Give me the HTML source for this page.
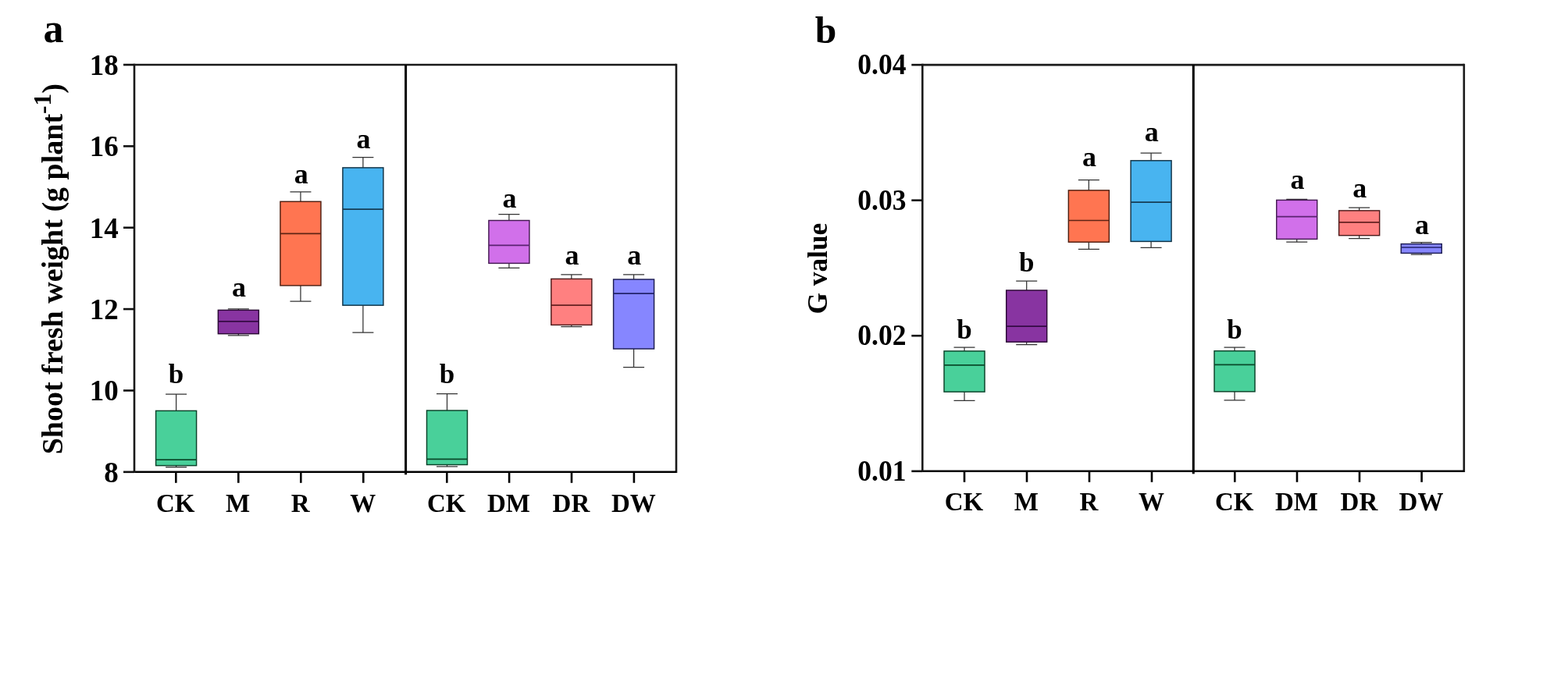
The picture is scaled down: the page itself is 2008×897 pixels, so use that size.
<!DOCTYPE html>
<html><head><meta charset="utf-8"><title>Figure</title>
<style>
html,body{margin:0;padding:0;background:#fff;}
body{width:2008px;height:897px;overflow:hidden;}
svg{display:block;}
text{font-family:"Liberation Serif", "Times New Roman", serif;font-weight:bold;fill:#000;}
.yl{font-size:37px;}
.xl{font-size:33px;}
.l{font-size:36px;}
.yt{font-size:38px;}
.yt2{font-size:35.3px;}
.p{font-size:52px;}
</style></head>
<body>
<svg width="2008" height="897" viewBox="0 0 2008 897">
<rect width="2008" height="897" fill="#fff"/>
<line x1="172" y1="83.0" x2="866" y2="83.0" stroke="#1a1a1a" stroke-width="2.6"/>
<line x1="866" y1="81.7" x2="866" y2="606.1" stroke="#1a1a1a" stroke-width="2.6"/>
<line x1="172" y1="604.8" x2="866" y2="604.8" stroke="#000" stroke-width="2.6"/>
<line x1="172" y1="81.7" x2="172" y2="606.1" stroke="#1a1a1a" stroke-width="2.6"/>
<line x1="519.6" y1="83.0" x2="519.6" y2="608.3" stroke="#000" stroke-width="3.0"/>
<line x1="158" y1="604.8" x2="172" y2="604.8" stroke="#111" stroke-width="2.6"/>
<text transform="translate(151.7,617.8) scale(1.0,1)" text-anchor="end" class="yl">8</text>
<line x1="158" y1="500.44" x2="172" y2="500.44" stroke="#111" stroke-width="2.6"/>
<text transform="translate(151.7,513.44) scale(1.0,1)" text-anchor="end" class="yl">10</text>
<line x1="158" y1="396.08" x2="172" y2="396.08" stroke="#111" stroke-width="2.6"/>
<text transform="translate(151.7,409.08) scale(1.0,1)" text-anchor="end" class="yl">12</text>
<line x1="158" y1="291.72" x2="172" y2="291.72" stroke="#111" stroke-width="2.6"/>
<text transform="translate(151.7,304.72) scale(1.0,1)" text-anchor="end" class="yl">14</text>
<line x1="158" y1="187.36" x2="172" y2="187.36" stroke="#111" stroke-width="2.6"/>
<text transform="translate(151.7,200.36) scale(1.0,1)" text-anchor="end" class="yl">16</text>
<line x1="158" y1="83.0" x2="172" y2="83.0" stroke="#111" stroke-width="2.6"/>
<text transform="translate(151.7,96.0) scale(1.0,1)" text-anchor="end" class="yl">18</text>
<line x1="225.3" y1="604.8" x2="225.3" y2="618.8" stroke="#000" stroke-width="2.6"/>
<text transform="translate(224.7,656.4) scale(1,1)" text-anchor="middle" class="xl">CK</text>
<line x1="305.3" y1="604.8" x2="305.3" y2="618.8" stroke="#000" stroke-width="2.6"/>
<text transform="translate(304.7,656.4) scale(1,1)" text-anchor="middle" class="xl">M</text>
<line x1="385.3" y1="604.8" x2="385.3" y2="618.8" stroke="#000" stroke-width="2.6"/>
<text transform="translate(384.7,656.4) scale(1,1)" text-anchor="middle" class="xl">R</text>
<line x1="465.3" y1="604.8" x2="465.3" y2="618.8" stroke="#000" stroke-width="2.6"/>
<text transform="translate(464.7,656.4) scale(1,1)" text-anchor="middle" class="xl">W</text>
<line x1="572.3" y1="604.8" x2="572.3" y2="618.8" stroke="#000" stroke-width="2.6"/>
<text transform="translate(571.7,656.4) scale(1,1)" text-anchor="middle" class="xl">CK</text>
<line x1="652.1" y1="604.8" x2="652.1" y2="618.8" stroke="#000" stroke-width="2.6"/>
<text transform="translate(651.5,656.4) scale(1,1)" text-anchor="middle" class="xl">DM</text>
<line x1="732" y1="604.8" x2="732" y2="618.8" stroke="#000" stroke-width="2.6"/>
<text transform="translate(731.4,656.4) scale(1,1)" text-anchor="middle" class="xl">DR</text>
<line x1="811.9" y1="604.8" x2="811.9" y2="618.8" stroke="#000" stroke-width="2.6"/>
<text transform="translate(811.3,656.4) scale(1,1)" text-anchor="middle" class="xl">DW</text>
<path d="M225.6 505.2V526.4M225.6 596.6V598.5M212.1 505.2H239.1M212.1 598.5H239.1" stroke="#333" stroke-width="1.25" fill="none"/>
<rect x="199.6" y="526.4" width="52.0" height="70.2" fill="#49D09A" stroke="#0a4229" stroke-width="1.45"/>
<line x1="199.6" y1="589.1" x2="251.6" y2="589.1" stroke="#0a4a2a" stroke-width="1.7"/>
<text x="225.6" y="491.4" text-anchor="middle" class="l" style="font-size:35px">b</text>
<path d="M305.35 395.9V397.4M305.35 427.7V429.9M291.85 395.9H318.85M291.85 429.9H318.85" stroke="#333" stroke-width="1.25" fill="none"/>
<rect x="279.35" y="397.4" width="52.0" height="30.3" fill="#8834A1" stroke="#2a0834" stroke-width="1.45"/>
<line x1="279.35" y1="411.8" x2="331.35" y2="411.8" stroke="#340a44" stroke-width="1.7"/>
<text x="306.05" y="380.4" text-anchor="middle" class="l">a</text>
<path d="M384.95 245.8V258.3M384.95 365.9V386.1M371.45 245.8H398.45M371.45 386.1H398.45" stroke="#333" stroke-width="1.25" fill="none"/>
<rect x="358.95" y="258.3" width="52.0" height="107.6" fill="#FF7551" stroke="#4e1d0f" stroke-width="1.45"/>
<line x1="358.95" y1="299.4" x2="410.95" y2="299.4" stroke="#5e2414" stroke-width="1.7"/>
<text x="385.65" y="234.7" text-anchor="middle" class="l">a</text>
<path d="M464.9 201.5V214.9M464.9 391.2V426.1M451.4 201.5H478.4M451.4 426.1H478.4" stroke="#333" stroke-width="1.25" fill="none"/>
<rect x="438.9" y="214.9" width="52.0" height="176.3" fill="#48B4F0" stroke="#113245" stroke-width="1.45"/>
<line x1="438.9" y1="268.2" x2="490.9" y2="268.2" stroke="#153c54" stroke-width="1.7"/>
<text x="465.6" y="189.5" text-anchor="middle" class="l">a</text>
<path d="M572.5 504.7V526.0M572.5 595.5V597.8M559.0 504.7H586.0M559.0 597.8H586.0" stroke="#333" stroke-width="1.25" fill="none"/>
<rect x="546.5" y="526.0" width="52.0" height="69.5" fill="#49D09A" stroke="#0a4229" stroke-width="1.45"/>
<line x1="546.5" y1="588.4" x2="598.5" y2="588.4" stroke="#0a4a2a" stroke-width="1.7"/>
<text x="572.5" y="491.2" text-anchor="middle" class="l" style="font-size:35px">b</text>
<path d="M651.9 274.6V282.5M651.9 337.4V343.3M638.4 274.6H665.4M638.4 343.3H665.4" stroke="#333" stroke-width="1.25" fill="none"/>
<rect x="625.9" y="282.5" width="52.0" height="54.9" fill="#D170EA" stroke="#441a52" stroke-width="1.45"/>
<line x1="625.9" y1="314.3" x2="677.9" y2="314.3" stroke="#5a2270" stroke-width="1.7"/>
<text x="652.6" y="265.7" text-anchor="middle" class="l">a</text>
<path d="M731.85 351.8V357.4M731.85 416.4V418.6M718.35 351.8H745.35M718.35 418.6H745.35" stroke="#333" stroke-width="1.25" fill="none"/>
<rect x="705.85" y="357.4" width="52.0" height="59.0" fill="#FF8080" stroke="#4e1a1a" stroke-width="1.45"/>
<line x1="705.85" y1="391.1" x2="757.85" y2="391.1" stroke="#642020" stroke-width="1.7"/>
<text x="732.55" y="339.1" text-anchor="middle" class="l">a</text>
<path d="M811.6 351.8V358.0M811.6 447.0V470.7M798.1 351.8H825.1M798.1 470.7H825.1" stroke="#333" stroke-width="1.25" fill="none"/>
<rect x="785.6" y="358.0" width="52.0" height="89.0" fill="#8686FF" stroke="#1c1c52" stroke-width="1.45"/>
<line x1="785.6" y1="376.2" x2="837.6" y2="376.2" stroke="#22226a" stroke-width="1.7"/>
<text x="812.3" y="339.1" text-anchor="middle" class="l">a</text>
<line x1="1181.3" y1="83.1" x2="1874.8" y2="83.1" stroke="#1a1a1a" stroke-width="2.6"/>
<line x1="1874.8" y1="81.8" x2="1874.8" y2="605.1" stroke="#1a1a1a" stroke-width="2.6"/>
<line x1="1181.3" y1="603.8" x2="1874.8" y2="603.8" stroke="#000" stroke-width="2.6"/>
<line x1="1181.3" y1="81.8" x2="1181.3" y2="605.1" stroke="#1a1a1a" stroke-width="2.6"/>
<line x1="1528.3" y1="83.1" x2="1528.3" y2="607.3" stroke="#000" stroke-width="3.0"/>
<line x1="1167.3" y1="603.8" x2="1181.3" y2="603.8" stroke="#111" stroke-width="2.6"/>
<text transform="translate(1160.5,615.9) scale(0.96,1)" text-anchor="end" class="yl">0.01</text>
<line x1="1167.3" y1="430.23" x2="1181.3" y2="430.23" stroke="#111" stroke-width="2.6"/>
<text transform="translate(1160.5,442.33) scale(0.96,1)" text-anchor="end" class="yl">0.02</text>
<line x1="1167.3" y1="256.67" x2="1181.3" y2="256.67" stroke="#111" stroke-width="2.6"/>
<text transform="translate(1160.5,268.77) scale(0.96,1)" text-anchor="end" class="yl">0.03</text>
<line x1="1167.3" y1="83.1" x2="1181.3" y2="83.1" stroke="#111" stroke-width="2.6"/>
<text transform="translate(1160.5,95.2) scale(0.96,1)" text-anchor="end" class="yl">0.04</text>
<line x1="1235" y1="603.8" x2="1235" y2="617.8" stroke="#000" stroke-width="2.6"/>
<text transform="translate(1234.4,654.2) scale(1,1)" text-anchor="middle" class="xl">CK</text>
<line x1="1315" y1="603.8" x2="1315" y2="617.8" stroke="#000" stroke-width="2.6"/>
<text transform="translate(1314.4,654.2) scale(1,1)" text-anchor="middle" class="xl">M</text>
<line x1="1395" y1="603.8" x2="1395" y2="617.8" stroke="#000" stroke-width="2.6"/>
<text transform="translate(1394.4,654.2) scale(1,1)" text-anchor="middle" class="xl">R</text>
<line x1="1475" y1="603.8" x2="1475" y2="617.8" stroke="#000" stroke-width="2.6"/>
<text transform="translate(1474.4,654.2) scale(1,1)" text-anchor="middle" class="xl">W</text>
<line x1="1581.3" y1="603.8" x2="1581.3" y2="617.8" stroke="#000" stroke-width="2.6"/>
<text transform="translate(1580.7,654.2) scale(1,1)" text-anchor="middle" class="xl">CK</text>
<line x1="1661" y1="603.8" x2="1661" y2="617.8" stroke="#000" stroke-width="2.6"/>
<text transform="translate(1660.4,654.2) scale(1,1)" text-anchor="middle" class="xl">DM</text>
<line x1="1741" y1="603.8" x2="1741" y2="617.8" stroke="#000" stroke-width="2.6"/>
<text transform="translate(1740.4,654.2) scale(1,1)" text-anchor="middle" class="xl">DR</text>
<line x1="1820.6" y1="603.8" x2="1820.6" y2="617.8" stroke="#000" stroke-width="2.6"/>
<text transform="translate(1820.0,654.2) scale(1,1)" text-anchor="middle" class="xl">DW</text>
<path d="M1235 445.1V449.9M1235 502.1V513.3M1221.5 445.1H1248.5M1221.5 513.3H1248.5" stroke="#333" stroke-width="1.25" fill="none"/>
<rect x="1209.0" y="449.9" width="52.0" height="52.2" fill="#49D09A" stroke="#0a4229" stroke-width="1.45"/>
<line x1="1209.0" y1="467.9" x2="1261.0" y2="467.9" stroke="#0a4a2a" stroke-width="1.7"/>
<text x="1235" y="434.2" text-anchor="middle" class="l" style="font-size:35px">b</text>
<path d="M1314.7 360.0V372.0M1314.7 438.2V441.5M1301.2 360.0H1328.2M1301.2 441.5H1328.2" stroke="#333" stroke-width="1.25" fill="none"/>
<rect x="1288.7" y="372.0" width="52.0" height="66.2" fill="#8834A1" stroke="#2a0834" stroke-width="1.45"/>
<line x1="1288.7" y1="418.2" x2="1340.7" y2="418.2" stroke="#340a44" stroke-width="1.7"/>
<text x="1314.7" y="348.4" text-anchor="middle" class="l" style="font-size:35px">b</text>
<path d="M1394.35 230.7V243.9M1394.35 310.2V319.4M1380.85 230.7H1407.85M1380.85 319.4H1407.85" stroke="#333" stroke-width="1.25" fill="none"/>
<rect x="1368.35" y="243.9" width="52.0" height="66.3" fill="#FF7551" stroke="#4e1d0f" stroke-width="1.45"/>
<line x1="1368.35" y1="282.5" x2="1420.35" y2="282.5" stroke="#5e2414" stroke-width="1.7"/>
<text x="1395.05" y="213.1" text-anchor="middle" class="l">a</text>
<path d="M1474.1 196.1V205.8M1474.1 309.4V317.4M1460.6 196.1H1487.6M1460.6 317.4H1487.6" stroke="#333" stroke-width="1.25" fill="none"/>
<rect x="1448.1" y="205.8" width="52.0" height="103.6" fill="#48B4F0" stroke="#113245" stroke-width="1.45"/>
<line x1="1448.1" y1="259.2" x2="1500.1" y2="259.2" stroke="#153c54" stroke-width="1.7"/>
<text x="1474.8" y="181.0" text-anchor="middle" class="l">a</text>
<path d="M1581.05 445.1V449.7M1581.05 501.8V512.9M1567.55 445.1H1594.55M1567.55 512.9H1594.55" stroke="#333" stroke-width="1.25" fill="none"/>
<rect x="1555.05" y="449.7" width="52.0" height="52.1" fill="#49D09A" stroke="#0a4229" stroke-width="1.45"/>
<line x1="1555.05" y1="467.4" x2="1607.05" y2="467.4" stroke="#0a4a2a" stroke-width="1.7"/>
<text x="1581.05" y="433.9" text-anchor="middle" class="l" style="font-size:35px">b</text>
<path d="M1660.75 255.3V256.4M1660.75 306.4V310.2M1647.25 255.3H1674.25M1647.25 310.2H1674.25" stroke="#333" stroke-width="1.25" fill="none"/>
<rect x="1634.75" y="256.4" width="52.0" height="50.0" fill="#D170EA" stroke="#441a52" stroke-width="1.45"/>
<line x1="1634.75" y1="277.7" x2="1686.75" y2="277.7" stroke="#5a2270" stroke-width="1.7"/>
<text x="1661.45" y="242.0" text-anchor="middle" class="l">a</text>
<path d="M1740.65 266.0V269.9M1740.65 301.7V305.6M1727.15 266.0H1754.15M1727.15 305.6H1754.15" stroke="#333" stroke-width="1.25" fill="none"/>
<rect x="1714.65" y="269.9" width="52.0" height="31.8" fill="#FF8080" stroke="#4e1a1a" stroke-width="1.45"/>
<line x1="1714.65" y1="284.9" x2="1766.65" y2="284.9" stroke="#642020" stroke-width="1.7"/>
<text x="1741.35" y="252.7" text-anchor="middle" class="l">a</text>
<path d="M1820.25 310.6V312.6M1820.25 324.4V326.2M1806.75 310.6H1833.75M1806.75 326.2H1833.75" stroke="#333" stroke-width="1.25" fill="none"/>
<rect x="1794.25" y="312.6" width="52.0" height="11.8" fill="#8686FF" stroke="#1c1c52" stroke-width="1.45"/>
<line x1="1794.25" y1="317.0" x2="1846.25" y2="317.0" stroke="#22226a" stroke-width="1.7"/>
<text x="1820.95" y="299.6" text-anchor="middle" class="l">a</text>
<text transform="translate(79.5,582.3) rotate(-90)" class="yt">Shoot fresh weight (g plant<tspan dy="-15" style="font-size:31.5px">-1</tspan><tspan dy="15">)</tspan></text>
<text transform="translate(1058.5,402.5) rotate(-90)" class="yt2">G value</text>
<text x="55.5" y="54" class="p">a</text>
<text x="1043.8" y="55.4" class="p" style="font-size:49.5px">b</text>
</svg>
</body></html>
